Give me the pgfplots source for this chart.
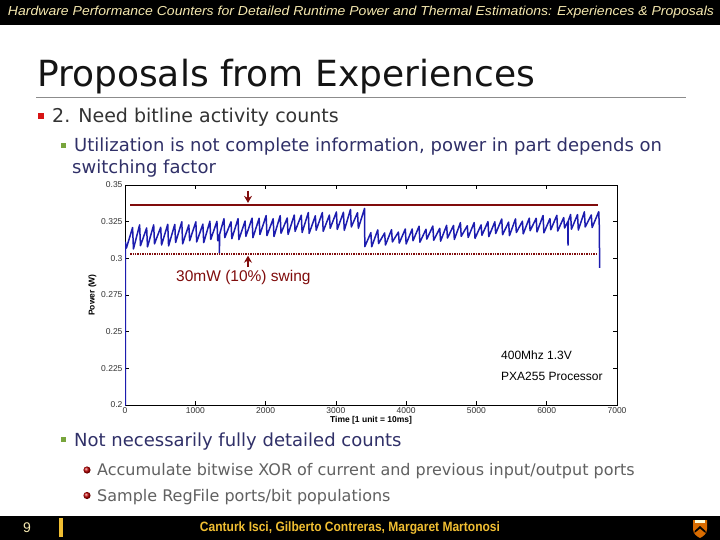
\documentclass[border=0pt]{standalone}
\usepackage{pgfplots}
\pgfplotsset{compat=1.18}
\usepackage{fontspec}
\setmainfont{DejaVu Sans}
\newfontfamily\arial{Liberation Sans}
\usetikzlibrary{arrows.meta}
\definecolor{sigblue}{RGB}{28,28,175}
\definecolor{dred}{RGB}{128,12,12}
\definecolor{cream}{RGB}{245,232,175}
\definecolor{gold}{RGB}{240,190,50}
\definecolor{navytext}{RGB}{48,48,104}
\definecolor{greenbul}{RGB}{120,165,60}
\definecolor{redbul}{RGB}{215,20,20}
\begin{document}
\begin{tikzpicture}
\begin{scope}[x=1pt,y=-1pt]
\fill[white] (0,0) rectangle (720,540);
\fill[black] (0,0) rectangle (720,25);
\node[text=cream,inner sep=0] at (361,12.5) {\resizebox{706pt}{\height}{\arial\itshape\fontsize{13}{14}\selectfont Hardware Performance Counters for Detailed Runtime Power and Thermal Estimations: Experiences \& Proposals}};
\node[anchor=base west,inner sep=0,text=black!92] at (37,87) {\fontsize{36}{40}\selectfont Proposals from Experiences};
\draw[black!45, line width=1pt] (36,98) -- (686,98);
\fill[redbul] (37.5,113) rectangle (43.5,119);
\node[anchor=base west,inner sep=0,text=black!80] at (52,123) {\fontsize{19}{22}\selectfont 2. Need bitline activity counts};
\fill[greenbul] (61,143) rectangle (66,148);
\node[anchor=base west,inner sep=0,text=navytext] at (74,152) {\fontsize{18}{22}\selectfont Utilization is not complete information, power in part depends on};
\node[anchor=base west,inner sep=0,text=navytext] at (72,174) {\fontsize{18}{22}\selectfont switching factor};
\fill[greenbul] (61,437) rectangle (66,442);
\node[anchor=base west,inner sep=0,text=navytext] at (74,446) {\fontsize{18}{22}\selectfont Not necessarily fully detailed counts};
\shade[ball color=red!75!black] (87,470) circle (3.6);
\shade[ball color=red!75!black] (87,495.5) circle (3.6);
\node[anchor=base west,inner sep=0,text=black!62] at (97,475) {\fontsize{16}{20}\selectfont Accumulate bitwise XOR of current and previous input/output ports};
\node[anchor=base west,inner sep=0,text=black!62] at (97,501) {\fontsize{16}{20}\selectfont Sample RegFile ports/bit populations};
\fill[black] (0,516) rectangle (720,540);
\node[text=cream,inner sep=0] at (27,528) {\arial\fontsize{14}{14}\selectfont 9};
\fill[gold] (59,518) rectangle (62.5,537);
\node[text=gold,inner sep=0] at (350,528) {\resizebox{300pt}{\height}{\arial\bfseries\fontsize{13.5}{14}\selectfont Canturk Isci, Gilberto Contreras, Margaret Martonosi}};
\fill[orange!85!black] (693,520) -- (707,520) -- (707,529) .. controls (707,534) and (703,536.5) .. (700,538) .. controls (697,536.5) and (693,534) .. (693,529) -- cycle;
\fill[black] (694.5,531) -- (700,526) -- (705.5,531) -- (705.5,533) -- (700,528.5) -- (694.5,533) -- cycle;
\fill[white!85!yellow] (695,520) rectangle (705,523);
\end{scope}
\begin{axis}[
  at={(125pt,-405pt)}, anchor=south west,
  scale only axis, width=492pt, height=220pt,
  xmin=0, xmax=7000, ymin=0.2, ymax=0.35,
  xtick={0,1000,2000,3000,4000,5000,6000,7000},
  xticklabels={0,1000,2000,3000,4000,5000,6000,7000},
  ytick={0.2,0.225,0.25,0.275,0.3,0.325,0.35},
  yticklabels={0.2,0.225,0.25,0.275,0.3,0.325,0.35},
  scaled ticks=false,
  tick align=inside, major tick length=4pt,
  tick style={black, line width=0.5pt},
  axis line style={black, line width=0.7pt},
  ticklabel style={font=\arial\fontsize{8.5}{9}\selectfont, text=black!80},
  xticklabel style={yshift=1pt},
  yticklabel style={xshift=1pt},
  xlabel={\bfseries Time [1 unit = 10ms]},
  ylabel={\bfseries Power (W)},
  label style={font=\arial\fontsize{8.5}{9}\selectfont},
  xlabel style={yshift=4pt},
  ylabel style={yshift=-2pt},
]
\addplot[sigblue, line width=1.5pt, line join=round] coordinates {
(0,0.200) (4,0.200) (6,0.3110) (12,0.3090)
(20,.3070) (108,.3210)
(120,.3064) (208,.3228)
(220,.3086) (308,.3207)
(320,.3078) (408,.3228)
(420,.3099) (508,.3212)
(520,.3091) (608,.3232)
(620,.3085) (708,.3231)
(720,.3108) (808,.3249)
(820,.3099) (908,.3228)
(920,.3120) (1008,.3249)
(1020,.3112) (1108,.3233)
(1120,.3107) (1208,.3253)
(1220,.3129) (1308,.3252)
(1320,.3120) (1340,.3160) (1343,.3036) (1347,.3165) (1408,.3270)
(1420,.3141) (1508,.3249)
(1520,.3134) (1608,.3270)
(1620,.3128) (1708,.3254)
(1720,.3150) (1808,.3274)
(1820,.3141) (1908,.3273)
(1920,.3163) (2008,.3291)
(2020,.3155) (2108,.3270)
(2120,.3149) (2208,.3291)
(2220,.3171) (2308,.3275)
(2320,.3163) (2408,.3295)
(2420,.3184) (2508,.3294)
(2520,.3176) (2608,.3312)
(2620,.3170) (2708,.3290)
(2720,.3192) (2808,.3312)
(2820,.3184) (2908,.3295)
(2920,.3205) (3008,.3316)
(3020,.3197) (3108,.3314)
(3120,.3191) (3208,.3333)
(3220,.3214) (3308,.3311)
(3320,.3205) (3408,.3340)
(3412,.3080) (3498,.3175)
(3510,.3079) (3596,.3194)
(3608,.3101) (3694,.3173)
(3706,.3091) (3792,.3195)
(3804,.3112) (3890,.3179)
(3902,.3104) (3988,.3200)
(4000,.3098) (4086,.3200)
(4098,.3120) (4184,.3219)
(4196,.3110) (4282,.3198)
(4294,.3131) (4380,.3220)
(4392,.3123) (4478,.3204)
(4490,.3117) (4576,.3225)
(4588,.3138) (4674,.3224)
(4686,.3129) (4772,.3243)
(4784,.3150) (4870,.3222)
(4882,.3142) (4968,.3244)
(4980,.3136) (5066,.3228)
(5078,.3157) (5164,.3250)
(5176,.3148) (5262,.3249)
(5274,.3169) (5360,.3268)
(5372,.3161) (5458,.3247)
(5470,.3155) (5556,.3269)
(5568,.3176) (5654,.3253)
(5666,.3167) (5752,.3274)
(5764,.3188) (5850,.3273)
(5862,.3180) (5948,.3292)
(5960,.3174) (6046,.3271)
(6058,.3195) (6144,.3293)
(6156,.3186) (6242,.3278)
(6254,.3207) (6300,.3250) (6303,.3090) (6307,.3255) (6340,.3299)
(6352,.3199) (6438,.3298)
(6450,.3193) (6536,.3317)
(6548,.3214) (6634,.3296)
(6646,.3210) (6740,.3318) (6750,.3200) (6752,.2935)
};
\addplot[dred, line width=2.3pt] coordinates {(75,0.3365) (6730,0.3365)};
\addplot[dred, line width=2.3pt, dash pattern=on 1.3pt off 1.1pt] coordinates {(75,0.303) (6730,0.303)};
\draw[dred, line width=1.8pt, -{Stealth[length=7pt,width=8pt]}] (axis cs:1750,0.3462) -- (axis cs:1750,0.3378);
\draw[dred, line width=1.8pt, -{Stealth[length=7pt,width=8pt]}] (axis cs:1750,0.2940) -- (axis cs:1750,0.3018);
\node[anchor=west, inner sep=0, text=dred, font=\arial\fontsize{15.5}{16}\selectfont] at (axis cs:726,0.2866) {30mW (10\%) swing};
\node[anchor=base west, inner sep=0, text=black, font=\arial\fontsize{12}{13}\selectfont] at (axis cs:5350,0.2307) {400Mhz 1.3V};
\node[anchor=base west, inner sep=0, text=black, font=\arial\fontsize{12}{13}\selectfont] at (axis cs:5350,0.2166) {PXA255 Processor};
\end{axis}
\end{tikzpicture}
\end{document}
